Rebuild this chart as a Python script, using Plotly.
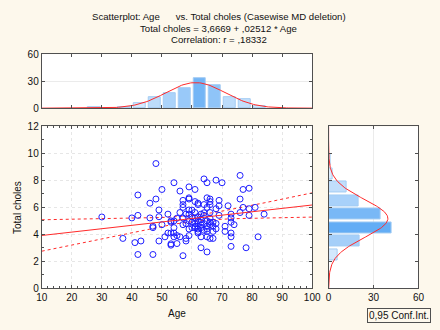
import numpy as np
import plotly.graph_objects as go

# ---------------- data ----------------
age = [30, 37, 40, 41, 42, 42, 42, 43, 46, 46, 47, 47, 47, 48, 48, 49, 49, 49, 50, 50,
       51, 52, 52, 53, 53, 53, 53, 53, 54, 54, 54, 54, 54, 55, 55, 55, 56, 56, 56, 57,
       57, 57, 57, 57, 57, 58, 58, 58, 59, 59, 59, 59, 59, 59, 59, 61, 61, 61, 61, 61,
       62, 62, 62, 62, 62, 63, 63, 63, 63, 64, 64, 64, 65, 65, 65, 65, 65, 65, 65, 65,
       66, 66, 66, 66, 66, 66, 66, 67, 67, 67, 68, 68, 68, 68, 69, 69, 69, 70, 71, 71,
       72, 73, 73, 73, 73, 73, 73, 74, 76, 76, 76, 77, 77, 78, 79, 79, 79, 81, 82, 84,
       60, 60, 60, 61, 61, 62, 62, 62, 63, 63, 64, 64, 64, 60, 63, 65, 66, 67, 58, 59]
chol = [5.29, 3.70, 5.22, 3.39, 5.41, 6.92, 2.51, 3.51, 6.31, 5.22, 4.60, 4.50, 2.51, 9.25, 6.62, 5.81, 5.31, 3.51, 7.33, 4.72,
        3.82, 5.50, 4.10, 4.10, 5.00, 4.90, 3.30, 3.20, 7.83, 5.00, 4.50, 4.10, 3.82, 5.20, 3.91, 3.32, 7.21, 5.62, 3.82, 6.52,
        6.21, 6.00, 5.22, 4.72, 2.42, 5.50, 3.70, 3.51, 7.52, 6.71, 6.62, 5.81, 5.50, 5.00, 3.91, 7.33, 6.43, 5.62, 4.60, 4.50,
        6.31, 6.21, 5.31, 4.22, 4.10, 4.90, 4.50, 3.82, 3.01, 8.11, 6.21, 5.41, 7.83, 6.71, 6.00, 5.00, 4.41, 4.22, 3.82, 2.70,
        6.62, 6.43, 6.21, 5.62, 4.90, 4.72, 3.70, 4.90, 4.22, 3.70, 8.02, 5.90, 4.81, 4.41, 6.52, 6.12, 5.41, 7.83, 4.60, 4.22,
        6.12, 5.50, 5.22, 4.90, 4.10, 3.82, 3.11, 4.72, 6.62, 5.62, 8.37, 7.33, 6.00, 3.01, 7.42, 5.90, 5.41, 6.00, 3.82, 5.50,
        4.90, 5.30, 4.50, 4.80, 5.20, 4.60, 5.00, 4.40, 4.70, 5.10, 4.30, 4.80, 5.60, 5.80, 5.50, 4.60, 5.20, 4.60, 4.80, 4.40]

# histogram of Age (bin centres, counts)
age_bins = [27.5, 37.5, 42.5, 47.5, 52.5, 57.5, 62.5, 67.5, 72.5, 77.5, 82.5]
age_counts = [1, 1, 5, 12, 17, 22, 33, 25, 12, 10, 2]
# histogram of Total choles
chol_bins = [2.5, 3.5, 4.5, 5.5, 6.5, 7.5, 8.5, 9.5]
chol_counts = [6, 21, 42, 35, 20, 12, 3, 1]

# regression from the title
intercept = 3.6669
slope = 0.02512

title_lines = ["Scatterplot: Age      vs. Total choles (Casewise MD deletion)",
               "Total choles = 3,6669 + ,02512 * Age",
               "Correlation: r = ,18332"]
x_ticks = [10, 20, 30, 40, 50, 60, 70, 80, 90, 100]
y_ticks = [0, 2, 4, 6, 8, 10, 12]
hist_ticks = [0, 30, 60]

# ---------------- derived curves ----------------
xa = np.array(age, float)
ya = np.array(chol, float)
n = len(xa)
xbar = xa.mean()
sxx = ((xa - xbar) ** 2).sum()
resid = ya - (intercept + slope * xa)
s = np.sqrt((resid ** 2).sum() / (n - 2))
tval = 1.977
xg = np.linspace(10, 100, 91)
yfit = intercept + slope * xg
half = tval * s * np.sqrt(1.0 / n + (xg - xbar) ** 2 / sxx)


def normal_from_hist(centres, counts, width, grid):
    c = np.array(centres, float)
    k = np.array(counts, float)
    N = k.sum()
    m = (c * k).sum() / N
    sd = np.sqrt((k * (c - m) ** 2).sum() / (N - 1))
    return N * width * np.exp(-0.5 * ((grid - m) / sd) ** 2) / (sd * np.sqrt(2 * np.pi))


ag = np.linspace(10, 100, 181)
age_curve = normal_from_hist(age_bins, age_counts, 5, ag)
cg = np.linspace(0, 12, 241)
chol_curve = normal_from_hist(chol_bins, chol_counts, 1, cg)

# ---------------- figure ----------------
W, H = 440, 330
BG = "#fdf8ec"
AX = "#505050"
GRID = "#e6e6e6"
RED = "#ff2a2a"
FONT = "Liberation Sans"
BAR_SCALE = [[0, "#e6f2fe"], [1, "#5aa8f4"]]

fig = go.Figure()

# top histogram
fig.add_trace(go.Bar(x=age_bins, y=age_counts, width=4.1, xaxis="x2", yaxis="y2",
                     marker=dict(color=age_counts, colorscale=BAR_SCALE, cmin=0, cmax=40,
                                 line=dict(color="#a4ccf3", width=1)),
                     showlegend=False, hoverinfo="skip"))
fig.add_trace(go.Scatter(x=ag, y=age_curve, mode="lines", xaxis="x2", yaxis="y2",
                         line=dict(color=RED, width=1), showlegend=False, hoverinfo="skip"))

# right histogram
fig.add_trace(go.Bar(y=chol_bins, x=chol_counts, width=0.82, orientation="h", xaxis="x3", yaxis="y3",
                     marker=dict(color=chol_counts, colorscale=BAR_SCALE, cmin=0, cmax=45,
                                 line=dict(color="#a4ccf3", width=1)),
                     showlegend=False, hoverinfo="skip"))
fig.add_trace(go.Scatter(x=chol_curve, y=cg, mode="lines", xaxis="x3", yaxis="y3",
                         line=dict(color=RED, width=1), showlegend=False, hoverinfo="skip"))

# main scatter
fig.add_trace(go.Scatter(x=xg, y=yfit - half, mode="lines", line=dict(color=RED, width=1, dash="dot"),
                         showlegend=False, hoverinfo="skip"))
fig.add_trace(go.Scatter(x=xg, y=yfit + half, mode="lines", line=dict(color=RED, width=1, dash="dot"),
                         showlegend=False, hoverinfo="skip"))
fig.add_trace(go.Scatter(x=age, y=chol, mode="markers",
                         marker=dict(symbol="circle-open", size=6, color="#2020ff", line=dict(width=1)),
                         showlegend=False))
fig.add_trace(go.Scatter(x=xg, y=yfit, mode="lines", line=dict(color=RED, width=1),
                         showlegend=False, hoverinfo="skip"))


def px(x):
    return x / W


def py(y):
    return 1 - y / H


common = dict(showline=True, linecolor=AX, linewidth=1, mirror="ticks", ticks="inside",
              ticklen=3, tickcolor=AX, zeroline=False, tickfont=dict(size=10, color="#111"))

fig.update_layout(
    width=W, height=H, margin=dict(l=0, r=0, t=0, b=0),
    paper_bgcolor=BG, plot_bgcolor="white",
    font=dict(family=FONT, size=10, color="#111"),
    bargap=0,
    xaxis=dict(domain=[px(37), px(317)], range=[10, 100], tickvals=x_ticks, showgrid=True,
               gridcolor=GRID, griddash="dot", anchor="y",
               minor=dict(dtick=2, ticks="inside", ticklen=2, tickcolor=AX, showgrid=False), **common),
    yaxis=dict(domain=[py(293), py(125)], range=[0, 12], tickvals=y_ticks, showgrid=True,
               gridcolor=GRID, griddash="dot", anchor="x",
               minor=dict(dtick=1, ticks="inside", ticklen=2, tickcolor=AX, showgrid=False), **common),
    xaxis2=dict(domain=[px(37), px(317)], range=[10, 100], tickvals=x_ticks, showticklabels=False,
                showgrid=False, anchor="y2", **common),
    yaxis2=dict(domain=[py(106), py(50)], range=[0, 60], tickvals=hist_ticks, showgrid=True,
                gridcolor="#ebebeb", anchor="x2", **common),
    xaxis3=dict(domain=[px(334), px(427)], range=[0, 60], tickvals=hist_ticks, showgrid=True,
                gridcolor="#ebebeb", anchor="y3", **common),
    yaxis3=dict(domain=[py(293), py(125)], range=[0, 12], tickvals=y_ticks, showticklabels=False,
                showgrid=False, anchor="x3", **common),
)

ann = []
for i, (t, yy) in enumerate(zip(title_lines, [11, 23, 35])):
    ann.append(dict(text=t, x=0.5, y=py(yy), xref="paper", yref="paper", showarrow=False,
                    xanchor="center", yanchor="middle", font=dict(size=9.6)))
ann.append(dict(text="Age", x=px(177), y=py(319), xref="paper", yref="paper", showarrow=False,
                xanchor="center", yanchor="middle", font=dict(size=10)))
ann.append(dict(text="Total choles", x=px(12), y=py(209), xref="paper", yref="paper", showarrow=False,
                textangle=-90, xanchor="center", yanchor="middle", font=dict(size=10)))
ann.append(dict(text="0,95 Conf.Int.", x=px(407), y=py(321.5), xref="paper", yref="paper", showarrow=False,
                xanchor="center", yanchor="middle", font=dict(size=10), bordercolor=AX, borderwidth=1,
                borderpad=1, bgcolor=BG))
fig.update_layout(annotations=ann)

fig.write_html("out.html", config={"displayModeBar": False},
               post_script="document.body.style.margin='0';document.body.style.padding='0';"
                           "document.body.style.overflow='hidden';")
